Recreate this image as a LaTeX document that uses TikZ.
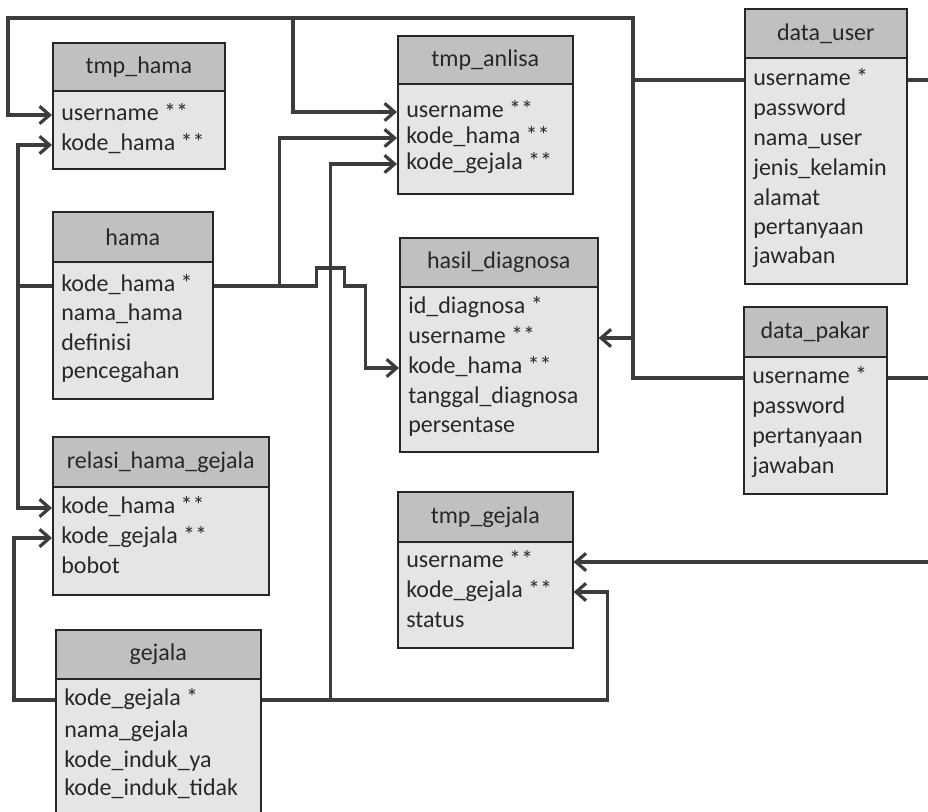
\documentclass[tikz,border=0pt]{standalone}
\usepackage{fontspec}
\setmainfont{Carlito}
\usepackage{tikz}
\usetikzlibrary{arrows.meta,calc}
\definecolor{headgray}{RGB}{192,192,192}
\definecolor{bodygray}{RGB}{229,229,229}
\definecolor{linkgray}{RGB}{60,60,60}
\definecolor{txtgray}{RGB}{40,40,40}

\begin{document}
\begin{tikzpicture}[x=0.75pt, y=-0.75pt,
    thead/.style={draw=black!85, line width=1.2pt, fill=headgray, anchor=north west, inner sep=0pt, font=\fontsize{18}{20}\selectfont, text=txtgray},
    tbody/.style={draw=black!85, line width=1.2pt, fill=bodygray, anchor=north west, inner sep=0pt},
    field/.style={anchor=west, inner sep=0pt, font=\fontsize{18}{20}\selectfont, text=txtgray, text height=12.6pt, text depth=4.5pt},
    link/.style={draw=linkgray, line width=2.4pt},
    >={Straight Barb[length=7.5pt,width=13pt]}
]
    \useasboundingbox (0,0) rectangle (928,812);
    \clip (0,0) rectangle (928,812);
    \fill[white] (0,0) rectangle (928,812);

    % tmp_hama
    \node[thead, minimum width=129pt, minimum height=36pt] (thama_h) at (52,42) {tmp\_hama};
    \node[tbody, minimum width=129pt, minimum height=58.5pt] (thama) at (52,90) {};
    \node[field] (thama_user) at (61,115) {username **};
    \node[field] (thama_kode) at (61,145) {kode\_hama **};

    % tmp_anlisa
    \node[thead, minimum width=131.25pt, minimum height=36pt] (tanalisa_h) at (397,35) {tmp\_anlisa};
    \node[tbody, minimum width=131.25pt, minimum height=82.5pt] (tanalisa) at (397,83) {};
    \node[field] (tanalisa_user) at (406,112) {username **};
    \node[field] (tanalisa_hama) at (406,138) {kode\_hama **};
    \node[field] (tanalisa_gejala) at (406,164) {kode\_gejala **};

    % data_user
    \node[thead, minimum width=121.5pt, minimum height=36.75pt] (duser_h) at (744,8) {data\_user};
    \node[tbody, minimum width=121.5pt, minimum height=169.5pt] (duser) at (744,57) {};
    \node[field] (duser_user) at (753,80) {username *};
    \node[field] at (753,110) {password};
    \node[field] at (753,140) {nama\_user};
    \node[field] at (753,170) {jenis\_kelamin};
    \node[field] at (753,200) {alamat};
    \node[field] at (753,229) {pertanyaan};
    \node[field] at (753,258) {jawaban};

    % hama
    \node[thead, minimum width=120pt, minimum height=37.5pt] (hama_h) at (52,211) {hama};
    \node[tbody, minimum width=120pt, minimum height=102.75pt] (hama) at (52,261) {};
    \node[field] (hama_kode) at (61,286) {kode\_hama *};
    \node[field] at (61,315) {nama\_hama};
    \node[field] at (61,345) {definisi};
    \node[field] at (61,373) {pencegahan};

    % hasil_diagnosa
    \node[thead, minimum width=148.5pt, minimum height=36.75pt] (hasil_h) at (399,237) {hasil\_diagnosa};
    \node[tbody, minimum width=148.5pt, minimum height=123.75pt] (hasil) at (399,286) {};
    \node[field] at (408,308) {id\_diagnosa *};
    \node[field] (hasil_user) at (408,338) {username **};
    \node[field] (hasil_hama) at (408,368) {kode\_hama **};
    \node[field] at (408,398) {tanggal\_diagnosa};
    \node[field] at (408,427) {persentase};

    % data_pakar
    \node[thead, minimum width=107.25pt, minimum height=37.5pt] (dpakar_h) at (743,306) {data\_pakar};
    \node[tbody, minimum width=107.25pt, minimum height=102.75pt] (dpakar) at (743,356) {};
    \node[field] (dpakar_user) at (752,378) {username *};
    \node[field] at (752,408) {password};
    \node[field] at (752,438) {pertanyaan};
    \node[field] at (752,468) {jawaban};

    % relasi_hama_gejala
    \node[thead, minimum width=162pt, minimum height=37.5pt] (relasi_h) at (52,436) {relasi\_hama\_gejala};
    \node[tbody, minimum width=162pt, minimum height=81pt] (relasi) at (52,486) {};
    \node[field] (relasi_hama) at (61,508) {kode\_hama **};
    \node[field] (relasi_gejala) at (61,538) {kode\_gejala **};
    \node[field] at (61,568) {bobot};

    % tmp_gejala
    \node[thead, minimum width=131.25pt, minimum height=37.5pt] (tgejala_h) at (397,491) {tmp\_gejala};
    \node[tbody, minimum width=131.25pt, minimum height=79.5pt] (tgejala) at (397,541) {};
    \node[field] (tgejala_user) at (406,562) {username **};
    \node[field] (tgejala_kode) at (406,592) {kode\_gejala **};
    \node[field] at (406,622) {status};

    % gejala (runs off the bottom edge)
    \node[thead, minimum width=153.75pt, minimum height=36.75pt] (gejala_h) at (55,629) {gejala};
    \node[tbody, minimum width=153.75pt, minimum height=114pt] (gejala) at (55,678) {};
    \node[field] (gejala_kode) at (64,700) {kode\_gejala *};
    \node[field] at (64,732) {nama\_gejala};
    \node[field] at (64,762) {kode\_induk\_ya};
    \node[field] at (64,790) {kode\_induk\_tidak};

    % Links: username bus
    \coordinate (ubus) at (633,18);
    \coordinate (ucorner) at (8,18);
    \coordinate (ubranch) at (293,18);
    \draw[link,->] (duser_user -| duser.west) -| (ubus) -- (ucorner) |- (thama_user -| thama.west);
    \draw[link,->] (ubranch) |- (tanalisa_user -| tanalisa.west);
    \draw[link] (ubus) |- (dpakar_user -| dpakar.west);
    \draw[link,->] (ubus |- hasil_user) -- (hasil_user -| hasil.east);

    % Links: kode_hama
    \coordinate (hbus) at ($(hama_kode -| hama.west)+(-34,0)$);
    \coordinate (hjoint) at ($(hama_kode -| hama.east)+(66,0)$);
    \draw[link] (hama_kode -| hama.west) -- (hbus);
    \draw[link,->] (hbus) |- (thama_kode -| thama.west);
    \draw[link,->] (hbus) |- (relasi_hama -| relasi.west);
    \draw[link,->] (hama_kode -| hama.east) -- (hjoint) |- (tanalisa_hama -| tanalisa.west);
    \draw[link,->] (hjoint) -- ++(37,0) -- ++(0,-18) -- ++(28,0) -- ++(0,18) -- ++(21,0) |- (hasil_hama -| hasil.west);

    % Links: kode_gejala
    \coordinate (gjoint) at ($(gejala_kode -| gejala.east)+(69,0)$);
    \draw[link,->] (gejala_kode -| gejala.east) -- (gjoint) |- (tanalisa_gejala -| tanalisa.west);
    \draw[link,->] (gjoint) -- ++(277,0) |- (tgejala_kode -| tgejala.east);
    \draw[link,->] (gejala_kode -| gejala.west) -- ++(-41,0) |- (relasi_gejala -| relasi.west);

    % Links running off the right edge
    \coordinate (duser_out) at (935,80);
    \coordinate (dpakar_out) at (935,378);
    \coordinate (tgejala_in) at (935,562);
    \draw[link] (duser_user -| duser.east) -- (duser_out);
    \draw[link] (dpakar_user -| dpakar.east) -- (dpakar_out);
    \draw[link,->] (tgejala_in) -- (tgejala_user -| tgejala.east);
\end{tikzpicture}
\end{document}
